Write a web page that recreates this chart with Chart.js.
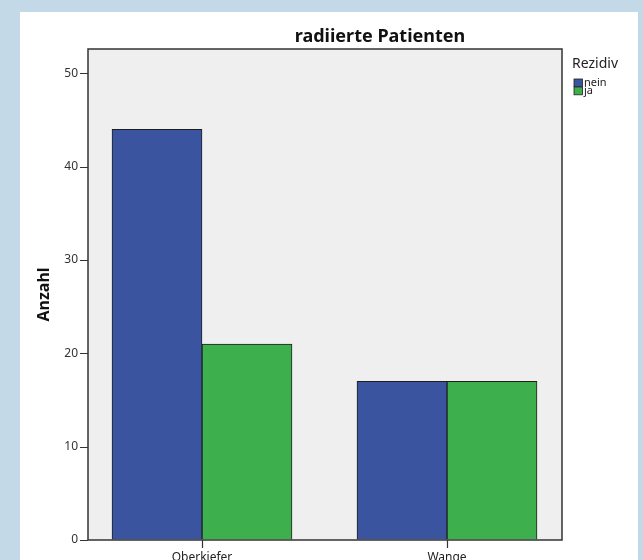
<!DOCTYPE html>
<html>
<head>
<meta charset="utf-8">
<script src="https://cdn.jsdelivr.net/npm/chart.js@4.4.0/dist/chart.umd.min.js"></script>
<style>
html,body{margin:0;padding:0;background:#c3d9e7;}
canvas{display:block;}
</style>
</head>
<body>
<canvas id="c" width="643" height="560"></canvas>
<script>
const chartTitle = "radiierte Patienten";
const legendTitle = "Rezidiv";
const categories = ["Oberkiefer", "Wange"];
const seriesNames = ["nein", "ja"];
const neinValues = [44, 17];
const jaValues = [21, 17];
const yTicks = [0, 10, 20, 30, 40, 50];
const colors = ["#3a54a0", "#3daf4c"];

const FONT = "'Noto Sans', 'Open Sans', sans-serif";
// visible plot frame
const FRAME = { left: 88, right: 562 };

const panelPlugin = {
  id: 'panel',
  beforeDraw(chart) {
    const ctx = chart.ctx;
    ctx.save();
    ctx.fillStyle = '#c3d9e7';
    ctx.fillRect(0, 0, chart.width, chart.height);
    ctx.fillStyle = '#ffffff';
    ctx.fillRect(20, 12, 618, chart.height - 12);
    const a = chart.chartArea;
    ctx.fillStyle = '#efefef';
    ctx.fillRect(FRAME.left, a.top, FRAME.right - FRAME.left, a.bottom - a.top);
    ctx.restore();
  },
  afterDatasetsDraw(chart) {
    const {ctx, chartArea: a} = chart;
    const ys = chart.scales.y;
    const xs = chart.scales.x;
    ctx.save();
    ctx.strokeStyle = '#333';
    ctx.lineWidth = 1.5;
    ctx.strokeRect(FRAME.left, a.top, FRAME.right - FRAME.left, a.bottom - a.top);
    ctx.lineWidth = 1.2;
    ctx.beginPath();
    yTicks.forEach(v => {
      const y = Math.round(ys.getPixelForValue(v)) + 0.5;
      ctx.moveTo(FRAME.left - 8, y);
      ctx.lineTo(FRAME.left, y);
    });
    categories.forEach((c, i) => {
      const x = Math.round(xs.getPixelForValue(i)) + 0.5;
      ctx.moveTo(x, a.bottom);
      ctx.lineTo(x, a.bottom + 8);
    });
    ctx.stroke();
    ctx.restore();
  },
  afterDraw(chart) {
    const ctx = chart.ctx;
    ctx.save();
    ctx.fillStyle = '#111';
    ctx.font = "bold 18px " + FONT;
    ctx.textAlign = 'center';
    ctx.textBaseline = 'alphabetic';
    ctx.fillText(chartTitle, 380, 42);
    ctx.textAlign = 'left';
    ctx.font = "14px " + FONT;
    ctx.fillStyle = '#222';
    ctx.fillText(legendTitle, 572, 68);
    ctx.font = "11px " + FONT;
    chart.data.datasets.forEach((ds, i) => {
      const y = 79 + i * 8;
      ctx.fillStyle = ds.backgroundColor;
      ctx.fillRect(574, y, 8.5, 7.8);
      ctx.strokeStyle = '#222';
      ctx.lineWidth = 0.8;
      ctx.strokeRect(574, y, 8.5, 7.8);
      ctx.fillStyle = '#222';
      ctx.textBaseline = 'alphabetic';
      ctx.fillText(ds.label, 584, y + 7.3);
    });
    ctx.restore();
  }
};

const datasets = seriesNames.map((name, si) => ({
  label: name,
  data: si === 0 ? neinValues : jaValues,
  backgroundColor: colors[si],
  borderColor: '#1e1e1e',
  borderWidth: 1,
  barThickness: 90
}));

new Chart(document.getElementById('c'), {
  type: 'bar',
  data: { labels: categories, datasets },
  plugins: [panelPlugin],
  options: {
    responsive: false,
    animation: false,
    devicePixelRatio: 1,
    layout: { padding: { left: 0, right: 73.5, top: 49, bottom: 0 } },
    plugins: { legend: { display: false }, title: { display: false }, tooltip: { enabled: false } },
    scales: {
      x: {
        type: 'category',
        offset: true,
        afterFit: s => { s.height = 20; },
        ticks: {
          autoSkip: false,
          maxRotation: 0,
          padding: 10,
          color: '#222',
          font: { family: FONT, size: 12 }
        },
        grid: { display: true, offset: false, drawOnChartArea: false, drawTicks: false },
        border: { display: false }
      },
      y: {
        min: 0,
        max: 52.6,
        afterBuildTicks: s => { s.ticks = yTicks.map(v => ({value: v})); },
        afterFit: s => { s.width = 79.5; },
        ticks: {
          includeBounds: false,
          padding: 1.5,
          color: '#333',
          font: { family: FONT, size: 12 }
        },
        grid: { display: true, drawOnChartArea: false, drawTicks: false },
        border: { display: false },
        title: {
          display: true,
          text: 'Anzahl',
          color: '#111',
          font: { family: FONT, size: 16, weight: 'bold' },
          padding: { top: 35, bottom: 0 }
        }
      }
    }
  }
});
</script>
</body>
</html>
